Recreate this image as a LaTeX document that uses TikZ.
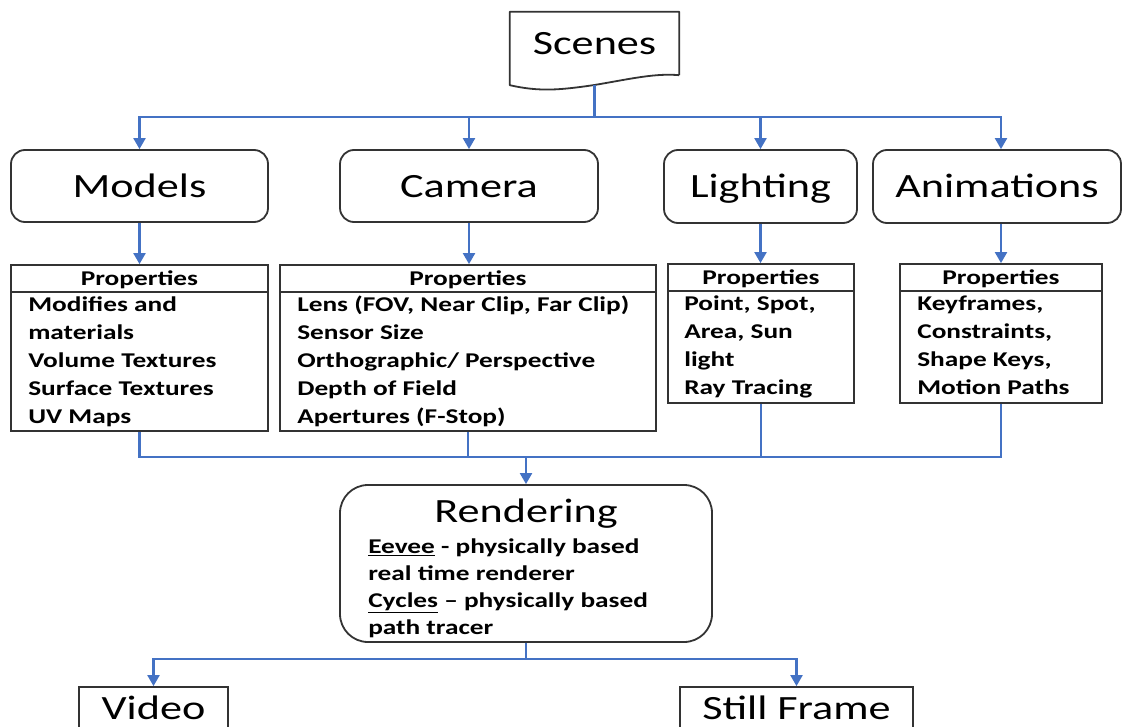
\documentclass[tikz,border=0pt]{standalone}
\usepackage{fontspec}
\setmainfont{Carlito}[FakeStretch=1.3]
\usetikzlibrary{arrows.meta,calc}
\definecolor{connblue}{HTML}{4472C4}
\definecolor{boxgray}{HTML}{333333}
\begin{document}
\begin{tikzpicture}[x=1pt,y=-1pt,
 box/.style={draw=boxgray, line width=1.8pt},
 titlefont/.style={font=\fontsize{34}{40}\selectfont},
 titlebox/.style={box, titlefont, rounded corners=14pt, text height=23pt, text depth=0pt, inner sep=0pt},
 propbox/.style={box, inner sep=0pt},
 head/.style={font=\bfseries\fontsize{21}{28}\selectfont, anchor=base, inner sep=0pt},
 plist/.style={font=\bfseries\fontsize{21}{28}\selectfont, anchor=north west, align=left, inner sep=0pt},
 rlist/.style={font=\bfseries\fontsize{21}{27}\selectfont, anchor=north west, align=left, inner sep=0pt},
 conn/.style={draw=connblue, line width=2.2pt},
 arr/.style={conn, -{Triangle[width=12pt,length=11pt]}},
]
\useasboundingbox (0,0) rectangle (1123,727);
\fill[white] (0,0) rectangle (1123,727);

% Scenes (document shape)
\node[titlefont, inner sep=0pt, minimum width=169pt, minimum height=63pt, text height=23pt, text depth=0pt] (scenes) at (594.5,43.5) {Scenes};
\draw[box, line join=round] (scenes.south east) -- (scenes.north east) -- (scenes.north west) -- ($(scenes.south west)+(0,10)$)
  .. controls (540,92) and (560,90) .. (594.5,85) .. controls (630,79) and (655,73) .. (scenes.south east);
\coordinate (scenesbot) at (594.5,85);

% Title boxes
\node[titlebox, minimum width=257pt, minimum height=72pt] (models) at (139.5,186) {Models};
\node[titlebox, minimum width=258pt, minimum height=72pt] (camera) at (469,186) {Camera};
\node[titlebox, minimum width=193pt, minimum height=73pt] (lighting) at (760.5,186.5) {Lighting};
\node[titlebox, minimum width=248pt, minimum height=73pt] (anim) at (997,186.5) {Animations};

% Properties boxes
\node[propbox, minimum width=257pt, minimum height=166pt] (mprops) at (139.5,348) {};
\node[propbox, minimum width=376pt, minimum height=166pt] (cprops) at (468,348) {};
\node[propbox, minimum width=186pt, minimum height=139pt] (lprops) at (761,333.5) {};
\node[propbox, minimum width=202pt, minimum height=139pt] (aprops) at (1001,333.5) {};

\foreach \p in {mprops,cprops,lprops,aprops}{
  \draw[box] ($(\p.north west)+(0,28)$) -- ($(\p.north east)+(0,28)$);
}
\node[head] (mhead) at ($(mprops.north)+(0,21)$) {Properties};
\node[head] (chead) at ($(cprops.north)+(0,21)$) {Properties};
\node[head] (lhead) at ($(lprops.north)+(0,21)$) {Properties};
\node[head] (ahead) at ($(aprops.north)+(0,21)$) {Properties};

\node[plist] (mlist) at ($(mprops.north west)+(18,28)$) {\strut Modifies and\\materials\\Volume Textures\\Surface Textures\\UV Maps};
\node[plist] (clist) at ($(cprops.north west)+(18,28)$) {\strut Lens (FOV, Near Clip, Far Clip)\\Sensor Size\\Orthographic/ Perspective\\Depth of Field\\Apertures (F-Stop)};
\node[plist] (llist) at ($(lprops.north west)+(17,28)$) {\strut Point, Spot,\\Area, Sun\\light\\Ray Tracing};
\node[plist] (alist) at ($(aprops.north west)+(18,28)$) {\strut Keyframes,\\Constraints,\\Shape Keys,\\Motion Paths};

% Rendering
\node[box, rounded corners=28pt, minimum width=372pt, minimum height=157pt, inner sep=0pt] (render) at (526,563.5) {};
\node[titlefont, anchor=base, inner sep=0pt] (rtitle) at ($(render.north)+(0,38)$) {Rendering};
\node[rlist] (rbody) at ($(render.north west)+(29,50)$) {\strut\underline{Eevee} - physically based\\real time renderer\\\underline{Cycles} -- physically based\\path tracer};

% Outputs
\node[box, titlefont, minimum width=149pt, minimum height=42pt, text height=23pt, text depth=0pt, inner sep=0pt] (video) at (153.5,708) {Video};
\node[box, titlefont, minimum width=233pt, minimum height=42pt, text height=23pt, text depth=0pt, inner sep=0pt] (still) at (796.5,708) {Still Frame};

% Connectors
\coordinate (sbus) at (594.5,117);
\draw[conn] (scenesbot) -- (sbus);
\draw[arr] (sbus) -| (models.north);
\draw[arr] (sbus) -| (camera.north);
\draw[arr] (sbus) -| (lighting.north);
\draw[arr] (sbus) -| (aprops.north |- anim.north);

\draw[arr] (models.south) -- (models.south |- mprops.north);
\draw[arr] (camera.south) -- (camera.south |- cprops.north);
\draw[arr] (lighting.south) -- (lighting.south |- lprops.north);
\draw[arr] (aprops.north |- anim.south) -- (aprops.north);

\coordinate (rbus) at (526,457);
\draw[conn] (mprops.south) |- (rbus);
\draw[conn] (cprops.south) |- (rbus);
\draw[conn] (lprops.south) |- (rbus);
\draw[conn] (aprops.south) |- (rbus);
\draw[arr] (rbus) -- (render.north);

\coordinate (obus) at (526,659);
\draw[conn] (render.south) -- (obus);
\draw[arr] (obus) -| (video.north);
\draw[arr] (obus) -| (still.north);
\end{tikzpicture}
\end{document}
